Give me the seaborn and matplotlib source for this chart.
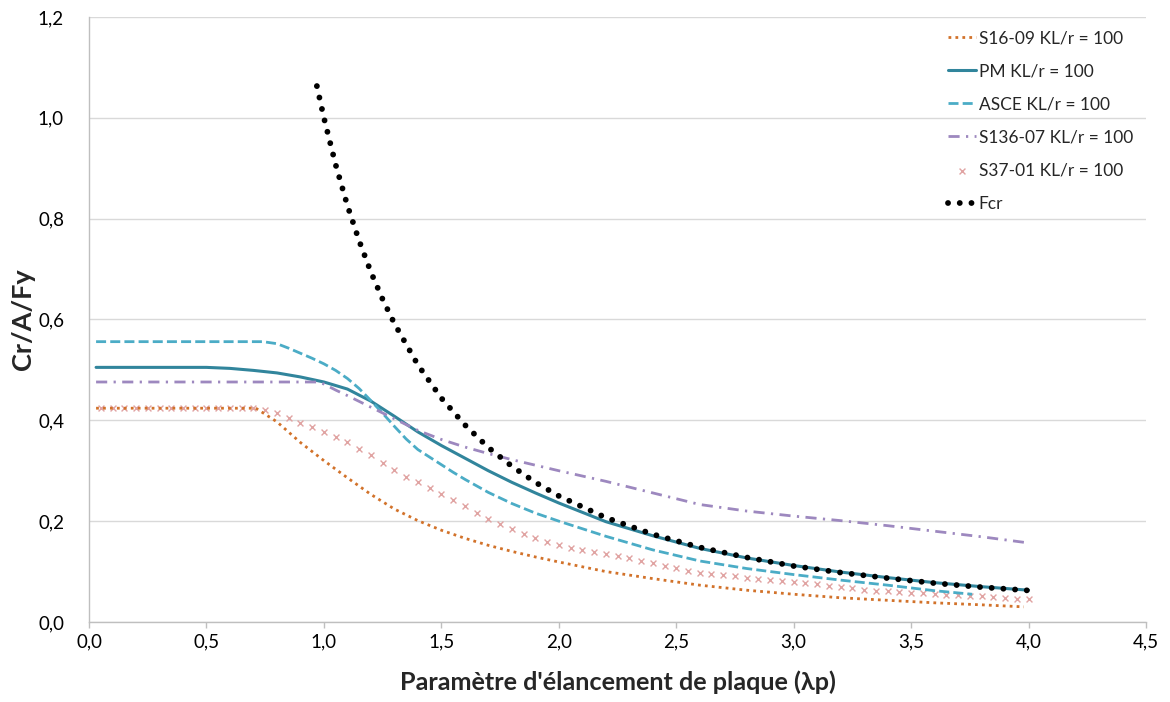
import numpy as np
import pandas as pd
import matplotlib
matplotlib.use("Agg")
import matplotlib.pyplot as plt
import seaborn as sns

# ---------------- data ----------------
s16_x = [0.03, 0.71, 0.8, 0.9, 1.0, 1.1, 1.2, 1.3, 1.4, 1.5, 1.6, 1.7, 1.8, 1.9, 2.0,
         2.2, 2.4, 2.6, 2.8, 3.0, 3.2, 3.4, 3.6, 3.8, 3.98]
s16_y = [0.424, 0.424, 0.397, 0.356, 0.320, 0.286, 0.253, 0.224, 0.201, 0.182, 0.166,
         0.152, 0.140, 0.129, 0.119, 0.100, 0.086, 0.073, 0.063, 0.055, 0.048, 0.043,
         0.038, 0.034, 0.030]

pm_x = [0.03, 0.3, 0.5, 0.6, 0.7, 0.8, 0.85, 0.9, 0.95, 1.0, 1.1, 1.2, 1.3, 1.4, 1.5,
        1.6, 1.7, 1.8, 1.9, 2.0, 2.2, 2.4, 2.6, 2.8, 3.0, 3.2, 3.4, 3.6, 3.8, 4.0]
pm_y = [0.505, 0.505, 0.505, 0.503, 0.499, 0.494, 0.490, 0.486, 0.481, 0.476, 0.462,
        0.438, 0.408, 0.377, 0.350, 0.325, 0.300, 0.277, 0.256, 0.236, 0.199, 0.171,
        0.146, 0.127, 0.112, 0.099, 0.088, 0.078, 0.070, 0.063]

asce_x = [0.03, 0.74, 0.8, 0.85, 0.9, 0.95, 1.0, 1.05, 1.1, 1.15, 1.2, 1.25, 1.3, 1.35,
          1.4, 1.45, 1.5, 1.55, 1.6, 1.7, 1.8, 1.9, 2.0, 2.2, 2.4, 2.6, 2.8, 3.0, 3.2,
          3.4, 3.6, 3.76]
asce_y = [0.556, 0.556, 0.552, 0.543, 0.533, 0.523, 0.512, 0.499, 0.483, 0.463, 0.439,
          0.414, 0.388, 0.363, 0.342, 0.327, 0.312, 0.297, 0.283, 0.257, 0.235, 0.216,
          0.200, 0.170, 0.143, 0.121, 0.106, 0.094, 0.083, 0.073, 0.062, 0.055]

s136_x = [0.03, 0.97, 1.0, 1.05, 1.1, 1.2, 1.3, 1.4, 1.5, 1.6, 1.7, 1.8, 1.9, 2.0, 2.2,
          2.4, 2.6, 2.8, 3.0, 3.2, 3.4, 3.6, 3.8, 3.98]
s136_y = [0.476, 0.476, 0.472, 0.460, 0.449, 0.426, 0.403, 0.380, 0.362, 0.347, 0.334,
          0.322, 0.311, 0.300, 0.279, 0.256, 0.233, 0.220, 0.210, 0.201, 0.191, 0.180,
          0.169, 0.158]

s37_x = [0.05, 0.10, 0.15, 0.20, 0.25, 0.30, 0.35, 0.40, 0.45, 0.50, 0.55, 0.60, 0.65,
         0.70, 0.75, 0.80, 0.85, 0.90, 0.95, 1.00, 1.05, 1.10, 1.15, 1.20, 1.25, 1.30,
         1.35, 1.40, 1.45, 1.50, 1.55, 1.60, 1.65, 1.70, 1.75, 1.80, 1.85, 1.90, 1.95,
         2.00, 2.05, 2.10, 2.15, 2.20, 2.25, 2.30, 2.35, 2.40, 2.45, 2.50, 2.55, 2.60,
         2.65, 2.70, 2.75, 2.80, 2.85, 2.90, 2.95, 3.00, 3.05, 3.10, 3.15, 3.20, 3.25,
         3.30, 3.35, 3.40, 3.45, 3.50, 3.55, 3.60, 3.65, 3.70, 3.75, 3.80, 3.85, 3.90,
         3.95, 4.00]
s37_y = [0.424, 0.424, 0.424, 0.424, 0.424, 0.424, 0.424, 0.424, 0.424, 0.424, 0.424,
         0.424, 0.424, 0.424, 0.420, 0.414, 0.405, 0.395, 0.386, 0.376, 0.367, 0.356,
         0.344, 0.332, 0.316, 0.302, 0.288, 0.277, 0.265, 0.254, 0.242, 0.230, 0.216,
         0.204, 0.194, 0.184, 0.175, 0.166, 0.158, 0.152, 0.147, 0.143, 0.139, 0.135,
         0.131, 0.126, 0.121, 0.116, 0.111, 0.107, 0.102, 0.098, 0.096, 0.093, 0.091,
         0.088, 0.086, 0.083, 0.081, 0.079, 0.077, 0.075, 0.072, 0.070, 0.067, 0.064,
         0.062, 0.061, 0.059, 0.058, 0.057, 0.055, 0.054, 0.053, 0.052, 0.051, 0.049,
         0.048, 0.046, 0.045]

fcr_x = [0.97, 1.0, 1.05, 1.1, 1.15, 1.2, 1.25, 1.3, 1.4, 1.5, 1.6, 1.7, 1.8, 1.9, 2.0,
         2.2, 2.4, 2.6, 2.8, 3.0, 3.2, 3.4, 3.6, 3.8, 4.0]
fcr_y = [1.063, 1.000, 0.907, 0.826, 0.756, 0.694, 0.640, 0.592, 0.510, 0.444, 0.391,
         0.346, 0.309, 0.277, 0.250, 0.207, 0.174, 0.148, 0.128, 0.111, 0.098, 0.087,
         0.077, 0.069, 0.0625]

labels = ["S16-09 KL/r = 100", "PM KL/r = 100", "ASCE KL/r = 100",
          "S136-07 KL/r = 100", "S37-01 KL/r = 100", "Fcr"]
x_ticks = [0.0, 0.5, 1.0, 1.5, 2.0, 2.5, 3.0, 3.5, 4.0, 4.5]
y_ticks = [0.0, 0.2, 0.4, 0.6, 0.8, 1.0, 1.2]
x_label = "Paramètre d'élancement de plaque (λp)"
y_label = "Cr/A/Fy"

# ---------------- style ----------------
sns.set_theme(style="white")
plt.rcParams["font.family"] = ["Lato", "DejaVu Sans"]

fig = plt.figure(figsize=(11.7, 7.02), dpi=100)
ax = fig.add_axes([0.0761, 0.114, 0.9034, 0.8618])

c_s16 = "#D2722A"
c_pm = "#31859C"
c_asce = "#4BACC6"
c_s136 = "#9D88BF"
c_s37 = "#E0A3A2"
c_fcr = "#000000"

sns.lineplot(x=s16_x, y=s16_y, ax=ax, color=c_s16, linewidth=2.0,
             linestyle=(0, (1.0, 1.5)), label=labels[0], zorder=4)
sns.lineplot(x=pm_x, y=pm_y, ax=ax, color=c_pm, linewidth=2.2,
             linestyle="-", label=labels[1], zorder=3)
sns.lineplot(x=asce_x, y=asce_y, ax=ax, color=c_asce, linewidth=2.0,
             linestyle=(0, (3.6, 1.5)), label=labels[2], zorder=3)
sns.lineplot(x=s136_x, y=s136_y, ax=ax, color=c_s136, linewidth=2.0,
             linestyle=(0, (4.0, 2.3, 0.8, 2.3)), label=labels[3], zorder=3)
sns.scatterplot(x=s37_x, y=s37_y, ax=ax, color=c_s37, marker="x", s=18,
                linewidth=1.0, label=labels[4], zorder=2)
sns.lineplot(x=fcr_x, y=fcr_y, ax=ax, color=c_fcr, linewidth=4.2,
             linestyle=(0, (0.01, 2.0)), label=labels[5], zorder=5)
for ln in ax.get_lines():
    if ln.get_label() == labels[5]:
        ln.set_dash_capstyle("round")
    if ln.get_label() == labels[0]:
        ln.set_dash_capstyle("butt")

ax.set_xlim(0, 4.5)
ax.set_ylim(0, 1.2)
ax.set_xticks(x_ticks)
ax.set_yticks(y_ticks)
ax.set_xticklabels([f"{v:.1f}".replace(".", ",") for v in x_ticks], fontsize=13.5)
ax.set_yticklabels([f"{v:.1f}".replace(".", ",") for v in y_ticks], fontsize=13.5)

ax.grid(axis="y", color="#D9D9D9", linewidth=1.0)
ax.grid(axis="x", visible=False)
for side in ["top", "right"]:
    ax.spines[side].set_visible(False)
ax.spines["left"].set_color("#BFBFBF")
ax.spines["bottom"].set_color("#BFBFBF")
ax.spines["left"].set_linewidth(1.0)
ax.spines["bottom"].set_linewidth(1.0)
ax.tick_params(axis="x", which="major", bottom=True, length=4, width=1.0,
               color="#BFBFBF", pad=4, labelcolor="#000000")
ax.tick_params(axis="y", which="major", left=False, length=0, pad=18,
               labelcolor="#000000")

ax.set_xlabel(x_label, fontsize=18.2, fontweight="bold", labelpad=15)
ax.set_ylabel(y_label, fontsize=19.5, fontweight="bold", labelpad=2)

leg = ax.legend(loc="upper right", bbox_to_anchor=(1.0, 1.0), frameon=False,
                fontsize=12.5, handlelength=1.6, handletextpad=0.15,
                labelspacing=0.99, borderaxespad=0.35)

fig.savefig("out.png", dpi=100)
